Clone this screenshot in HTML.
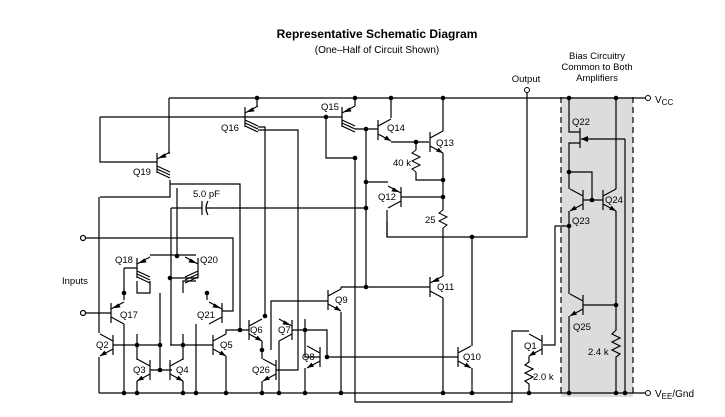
<!DOCTYPE html>
<html><head><meta charset="utf-8"><style>
html,body{margin:0;padding:0;background:#fff;}
svg{display:block;font-family:"Liberation Sans",Arial,sans-serif;}
</style></head><body>
<svg width="725" height="417" viewBox="0 0 725 417" xmlns="http://www.w3.org/2000/svg">
<defs>
<g id="tn"><path d="M0,-10V10M0,-4L13,-11M0,4L13,11" fill="none" stroke="#000" stroke-width="1.2"/><path d="M13,11L6,9.6L8.6,5.6Z" fill="#000"/></g>
<g id="tp"><path d="M0,-10V10M0,-4L13,-11M0,4L13,11" fill="none" stroke="#000" stroke-width="1.2"/><path d="M1,-4.6L7.5,-9.6L9.6,-5.6Z" fill="#000"/></g>
<g id="tm"><path d="M0,-10V10M0,-4L13,-11M0,3L13,9M0,6L13,12M0,9L13,15" fill="none" stroke="#000" stroke-width="1.2"/><path d="M1,-4.6L7.5,-9.6L9.6,-5.6Z" fill="#000"/></g>
</defs>
<rect x="561" y="97" width="72" height="300" fill="#dcdcdc"/>
<path d="M561,97V397M633,97V397" stroke="#000" stroke-width="1.2" stroke-dasharray="6,4"/>
<text x="377" y="38" font-size="12" font-weight="bold" text-anchor="middle">Representative Schematic Diagram</text>
<text x="377" y="53" font-size="10" text-anchor="middle">(One–Half of Circuit Shown)</text>
<text x="597" y="59" font-size="9.5" text-anchor="middle">Bias Circuitry</text>
<text x="597" y="70" font-size="9.5" text-anchor="middle">Common to Both</text>
<text x="597" y="81" font-size="9.5" text-anchor="middle">Amplifiers</text>
<text x="526" y="82" font-size="9.5" text-anchor="middle">Output</text>
<text x="655" y="103" font-size="10">V<tspan font-size="8" dy="2">CC</tspan></text>
<text x="655" y="397" font-size="10">V<tspan font-size="8" dy="2">EE</tspan><tspan dy="-2">/Gnd</tspan></text>
<text x="62" y="284" font-size="9.5">Inputs</text>
<g fill="none" stroke="#000" stroke-width="1.2">
<path d="M169,98H645M99,393H645"/>
<path d="M527,93V237H387V222M472,237V346"/>
<path d="M355,158V402H512V331H529"/>
<!-- top left -->
<path d="M100,117H342M100,117V162H157M169,98V154M100,197H170V180M99,197V333"/>
<path d="M170,184H240V330M177,188V256M171,208H202M206,208H366M171,208V345"/>
<path d="M202,201V215M208,201Q204,208 208,215"/>
<circle cx="83" cy="238" r="2.5" fill="#fff"/><circle cx="83" cy="313" r="2.5" fill="#fff"/>
<path d="M86,238H233V311H222M86,313H111"/>
<!-- Q16 -->
<path d="M257,98V106M258,127H265V316M258,130H298V370H276"/>
<!-- Q15 -->
<path d="M355,98V106M326,117V158H355M355,129H366V287M355,129"/>
<!-- Q14 Q13 Q12 -->
<path d="M366,129H378M391,98V118M391,142H429M443,98V131M443,153V180M416,142V150M416,172V180H443M366,182H388M387,210V237M443,197H401M443,180V210M443,228V276M366,287H430"/>
<path d="M443,298V393M472,368V393M327,357H458"/>
<!-- Q9 -->
<path d="M271,350V301H328M341,287V289M341,287H366M341,312V393"/>
<!-- Q1 -->
<path d="M543,345H555V226H569M529,356V362L525,365L533,369L525,373L533,377L525,381L529,384V393"/>
<!-- bias -->
<path d="M569,98V132H580M580,143H569V189M569,172H592V200M583,200H603M616,98V189M625,139V393M625,139H581M569,211V294M583,305H616M616,211V330L612,334L620,338L612,342L620,346L612,350L620,354L616,357V393M569,316V393"/>
<path d="M416,150L412,153L420,157L412,161L420,165L412,169L416,172" stroke-width="1"/>
<path d="M443,210L439,213L447,217L439,221L447,225L443,228" stroke-width="1"/>
<!-- lower left -->
<path d="M150,255H196M124,268H137M124,268V293M124,293V300M150,281V293H137V281M160,293V370H150M99,357V393M113,345H160M137,334V360M137,381V393M124,324V393"/>
<path d="M170,278H198M170,345H213M183,293V281H196M183,334V360M183,381V393M207,293V300M196,324V393M160,370H172"/>
<path d="M226,334V330H249M226,356V393M262,341V359M262,381V393M279,341V393M292,330H305V357H320M305,330V319M305,368V393M305,330H327V357"/>
</g>
<g fill="#000"><polygon points="581,139 588,136 588,142"/></g>
<g stroke="#000" stroke-width="1.2" fill="none"><path d="M580,128V148"/></g>
<use href="#tm" transform="translate(157,163) translate(0,0)"/>
<use href="#tm" transform="translate(245,117)"/>
<use href="#tm" transform="translate(342,117)"/>
<use href="#tn" transform="translate(378,130)"/>
<use href="#tn" transform="translate(430,142)"/>
<use href="#tp" transform="translate(401,197) scale(-1,1)"/>
<use href="#tp" transform="translate(430,287)"/>
<use href="#tn" transform="translate(458,357)"/>
<use href="#tn" transform="translate(328,300)"/>
<use href="#tn" transform="translate(320,357) scale(-1,1)"/>
<use href="#tn" transform="translate(542,345) scale(-1,1)"/>
<use href="#tn" transform="translate(583,200) scale(-1,1)"/>
<use href="#tn" transform="translate(603,200)"/>
<use href="#tn" transform="translate(583,305) scale(-1,1)"/>
<use href="#tn" transform="translate(113,345) scale(-1,1)"/>
<use href="#tp" transform="translate(111,313)"/>
<use href="#tm" transform="translate(137,268) scale(1,1)"/>
<use href="#tm" transform="translate(198,268) scale(-1,1)"/>
<use href="#tp" transform="translate(222,313) scale(-1,1)"/>
<use href="#tn" transform="translate(150,370) scale(-1,1)"/>
<use href="#tn" transform="translate(170,370)"/>
<use href="#tn" transform="translate(213,345)"/>
<use href="#tn" transform="translate(249,330)"/>
<use href="#tp" transform="translate(292,330) scale(-1,1)"/>
<use href="#tn" transform="translate(276,370) scale(-1,1)"/>
<g fill="#000">
<circle cx="257" cy="98" r="2.3"/><circle cx="355" cy="98" r="2.3"/><circle cx="391" cy="98" r="2.3"/><circle cx="443" cy="98" r="2.3"/><circle cx="569" cy="98" r="2.3"/><circle cx="616" cy="98" r="2.3"/>
<circle cx="326" cy="117" r="2.3"/><circle cx="355" cy="158" r="2.3"/><circle cx="366" cy="129" r="2.3"/><circle cx="416" cy="142" r="2.3"/><circle cx="443" cy="180" r="2.3"/><circle cx="443" cy="197" r="2.3"/><circle cx="366" cy="182" r="2.3"/><circle cx="366" cy="208" r="2.3"/><circle cx="472" cy="237" r="2.3"/><circle cx="366" cy="287" r="2.3"/>
<circle cx="569" cy="172" r="2.3"/><circle cx="592" cy="200" r="2.3"/><circle cx="569" cy="226" r="2.3"/><circle cx="616" cy="305" r="2.3"/>
<circle cx="177" cy="256" r="2.3"/><circle cx="124" cy="293" r="2.3"/><circle cx="207" cy="293" r="2.3"/><circle cx="170" cy="278" r="2.3"/>
<circle cx="137" cy="345" r="2.3"/><circle cx="160" cy="345" r="2.3"/><circle cx="160" cy="370" r="2.3"/><circle cx="183" cy="345" r="2.3"/><circle cx="240" cy="330" r="2.3"/><circle cx="265" cy="316" r="2.3"/><circle cx="262" cy="350" r="2.3"/><circle cx="305" cy="330" r="2.3"/><circle cx="327" cy="357" r="2.3"/>
<circle cx="124" cy="393" r="2.3"/><circle cx="137" cy="393" r="2.3"/><circle cx="183" cy="393" r="2.3"/><circle cx="196" cy="393" r="2.3"/><circle cx="226" cy="393" r="2.3"/><circle cx="262" cy="393" r="2.3"/><circle cx="279" cy="393" r="2.3"/><circle cx="305" cy="393" r="2.3"/><circle cx="341" cy="393" r="2.3"/><circle cx="443" cy="393" r="2.3"/><circle cx="472" cy="393" r="2.3"/><circle cx="529" cy="393" r="2.3"/><circle cx="569" cy="393" r="2.3"/><circle cx="616" cy="393" r="2.3"/><circle cx="625" cy="393" r="2.3"/>
</g>
<circle cx="648" cy="98" r="2.5" fill="#fff" stroke="#000"/><circle cx="648" cy="393" r="2.5" fill="#fff" stroke="#000"/>
<circle cx="527" cy="90" r="2.5" fill="#fff" stroke="#000"/>
<g font-size="9.5">
<text x="133" y="175">Q19</text><text x="221" y="131">Q16</text><text x="321" y="110">Q15</text><text x="387" y="131">Q14</text><text x="436" y="146">Q13</text>
<text x="393" y="166">40 k</text><text x="378" y="200">Q12</text><text x="425" y="223">25</text><text x="437" y="290">Q11</text><text x="463" y="360">Q10</text>
<text x="335" y="303">Q9</text><text x="302" y="360">Q8</text><text x="524" y="349">Q1</text><text x="533" y="380">2.0 k</text>
<text x="572" y="125">Q22</text><text x="572" y="224">Q23</text><text x="605" y="203">Q24</text><text x="573" y="330">Q25</text><text x="588" y="355">2.4 k</text>
<text x="115" y="263">Q18</text><text x="200" y="263">Q20</text><text x="120" y="318">Q17</text><text x="197" y="318">Q21</text><text x="96" y="348">Q2</text>
<text x="133" y="373">Q3</text><text x="176" y="373">Q4</text><text x="220" y="348">Q5</text><text x="250" y="333">Q6</text><text x="278" y="333">Q7</text><text x="252" y="373">Q26</text>
<text x="193" y="197">5.0 pF</text>
</g>
</svg>
</body></html>
